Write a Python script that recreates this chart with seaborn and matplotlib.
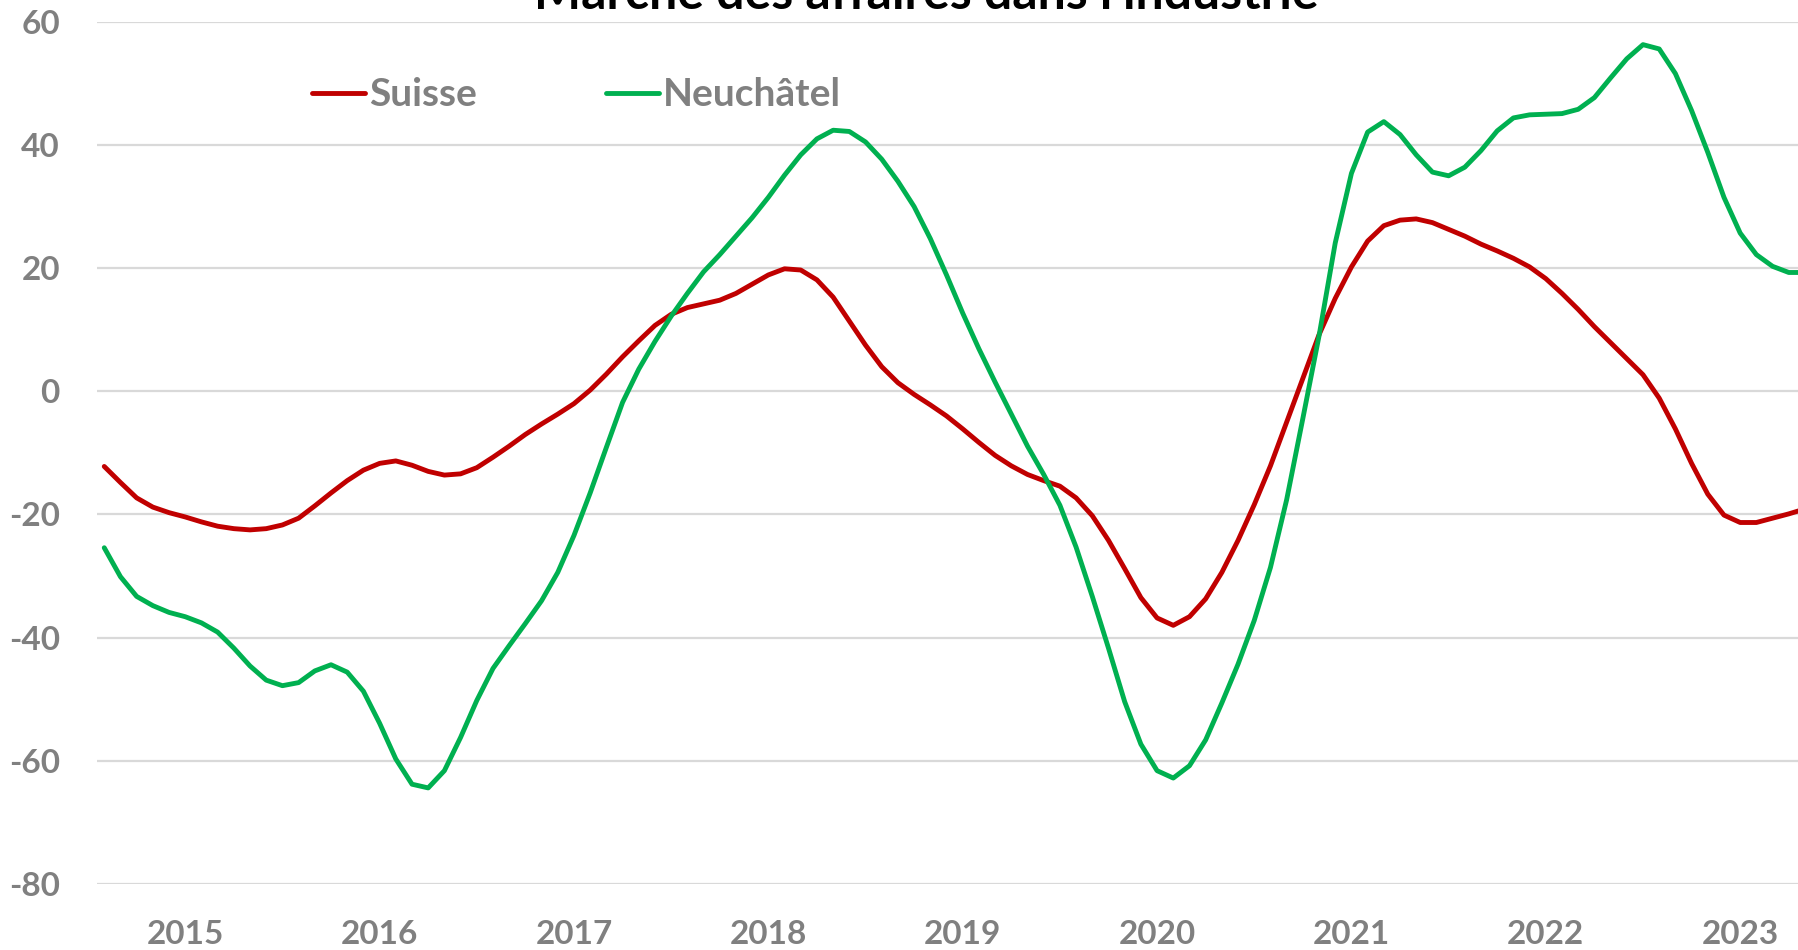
import matplotlib
matplotlib.use("Agg")
import matplotlib.pyplot as plt
import seaborn as sns
import pandas as pd

# Monthly values (first month = index 0)
suisse = [
    -12.2, -14.8, -17.3, -18.8, -19.7, -20.4, -21.2, -21.9, -22.3, -22.5,
    -22.3, -21.7, -20.6, -18.6, -16.5, -14.5, -12.8, -11.7, -11.3, -12.0,
    -13.0, -13.6, -13.4, -12.4, -10.7, -8.9, -7.0, -5.3, -3.7, -2.0,
    0.2, 2.8, 5.6, 8.2, 10.7, 12.5, 13.6, 14.2, 14.8, 15.9,
    17.4, 18.9, 19.9, 19.7, 18.1, 15.3, 11.4, 7.5, 4.0, 1.4,
    -0.5, -2.2, -4.0, -6.1, -8.3, -10.4, -12.1, -13.5, -14.5, -15.4,
    -17.3, -20.2, -24.2, -28.8, -33.5, -36.8, -38.0, -36.6, -33.7, -29.4,
    -24.2, -18.4, -12.1, -5.0, 2.1, 9.2, 15.1, 20.2, 24.4, 26.9,
    27.8, 28.0, 27.4, 26.3, 25.2, 23.9, 22.8, 21.6, 20.2, 18.3,
    15.9, 13.3, 10.5, 7.9, 5.3, 2.7, -1.1, -6.1, -11.7, -16.7,
    -20.1, -21.3, -21.3, -20.6, -19.9, -19.1,
]
neuchatel = [
    -25.4, -30.1, -33.3, -34.8, -35.9, -36.6, -37.6, -39.1, -41.7, -44.6,
    -46.9, -47.8, -47.3, -45.4, -44.4, -45.6, -48.7, -53.9, -59.7, -63.8,
    -64.4, -61.6, -56.2, -50.2, -45.0, -41.3, -37.7, -34.0, -29.4, -23.4,
    -16.5, -9.1, -1.8, 3.6, 8.1, 12.2, 15.9, 19.4, 22.2, 25.2,
    28.2, 31.5, 35.1, 38.4, 41.0, 42.4, 42.2, 40.5, 37.7, 34.1,
    30.0, 24.8, 18.9, 12.7, 6.9, 1.5, -3.7, -8.9, -13.5, -18.5,
    -25.3, -33.3, -41.7, -50.4, -57.3, -61.6, -62.8, -60.8, -56.6, -50.6,
    -44.3, -37.2, -28.6, -17.6, -4.4, 9.0, 24.1, 35.4, 42.1, 43.8,
    41.7, 38.4, 35.6, 35.0, 36.4, 39.1, 42.3, 44.4, 44.9, 45.0,
    45.1, 45.8, 47.7, 50.9, 54.0, 56.3, 55.6, 51.6, 45.6, 38.8,
    31.5, 25.7, 22.2, 20.3, 19.3, 19.3,
]
years = ["2015", "2016", "2017", "2018", "2019", "2020", "2021", "2022", "2023"]
year_pos = [5, 17, 29, 41, 53, 65, 77, 89, 101]
yticks = [-80, -60, -40, -20, 0, 20, 40, 60]

df = pd.DataFrame({
    "mois": list(range(len(suisse))) * 2,
    "valeur": suisse + neuchatel,
    "serie": ["Suisse"] * len(suisse) + ["Neuchâtel"] * len(neuchatel),
})

sns.set_style("white")
plt.rcParams["font.family"] = ["Lato", "DejaVu Sans"]
plt.rcParams["axes.unicode_minus"] = False

fig = plt.figure(figsize=(17.98, 9.5), dpi=100)
ax = fig.add_axes([0.0542, 0.0695, 0.9458, 0.9075])

sns.lineplot(data=df, x="mois", y="valeur", hue="serie",
             palette={"Suisse": "#C00000", "Neuchâtel": "#00B050"},
             linewidth=3.5, ax=ax, legend=False)

ax.set_xlim(-0.42, 104.57)
ax.set_ylim(-80, 60)
ax.set_yticks(yticks)
ax.set_xticks(year_pos)
ax.set_xticklabels(years)
ax.yaxis.grid(True, color="#D9D9D9", linewidth=1.6)
ax.set_axisbelow(True)
for s in ax.spines.values():
    s.set_visible(False)
ax.tick_params(axis="both", length=0, labelsize=24, labelcolor="#808080")
ax.tick_params(axis="y", pad=27)
ax.tick_params(axis="x", pad=26)
for lab in ax.get_xticklabels() + ax.get_yticklabels():
    lab.set_fontweight("bold")
ax.set_xlabel("")
ax.set_ylabel("")

handles = [plt.Line2D([], [], color="#C00000", linewidth=3.5),
           plt.Line2D([], [], color="#00B050", linewidth=3.5)]
leg = fig.legend(handles, ["Suisse", "Neuchâtel"], loc="center left",
                 bbox_to_anchor=(0.1735, 0.9), ncol=2, frameon=False,
                 handlelength=1.36, handletextpad=0.12, columnspacing=3.3,
                 borderpad=0, borderaxespad=0,
                 prop={"size": 28, "weight": "bold"})
for t in leg.get_texts():
    t.set_color("#808080")

fig.text(0.515, 1 - 9 / 950, "Marché des affaires dans l'industrie",
         ha="center", va="baseline", fontsize=36, fontweight="bold",
         color="black")

fig.savefig("out.png", dpi=100)
